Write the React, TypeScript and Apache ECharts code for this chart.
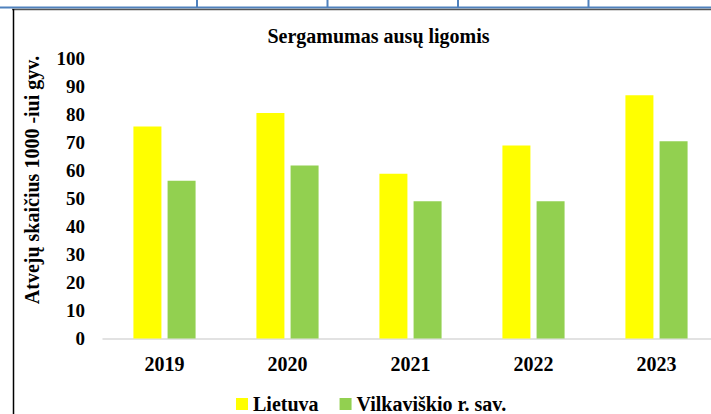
import React, { useEffect, useRef } from "react";
import * as echarts from "echarts";

const categories = ["2019", "2020", "2021", "2022", "2023"];
const lietuva = [75.7, 80.5, 58.8, 68.9, 86.8];
const vilkaviskio = [56.3, 61.7, 49.0, 49.0, 70.4];
const seriesNames = ["Lietuva", "Vilkaviškio r. sav."];
const titleText = "Sergamumas ausų ligomis";
const yAxisTitle = "Atvejų skaičius 1000 -iui gyv.";

const FONT = "'Liberation Serif', 'Times New Roman', serif";

export default function App() {
  const ref = useRef<HTMLDivElement>(null);
  useEffect(() => {
    document.body.style.margin = "0";
    document.body.style.overflow = "hidden";
    document.documentElement.style.overflow = "hidden";
    const chart = echarts.init(ref.current!, null, { renderer: "svg" });
    const blue = "#4F81BD";
    const vx = [197, 327.5, 458, 588.5];
    chart.setOption({
      animation: false,
      backgroundColor: "#ffffff",
      textStyle: { fontFamily: FONT },
      grid: { left: 103, right: 12, top: 58.3, bottom: 75.5 },
      legend: {
        data: seriesNames,
        left: 236,
        top: 394,
        padding: 0,
        itemWidth: 12,
        itemHeight: 12,
        itemGap: 21,
        icon: "rect",
        textStyle: { fontFamily: "Liberation Serif", fontWeight: "bold", fontSize: 20, color: "#000" },
      },
      xAxis: {
        type: "category",
        data: categories,
        axisLine: { show: true, lineStyle: { color: "#D9D9D9", width: 1.5 } },
        axisTick: { show: false },
        axisLabel: { margin: 15, fontFamily: FONT, fontWeight: "bold", fontSize: 20, color: "#000" },
      },
      yAxis: {
        type: "value",
        min: 0,
        max: 100,
        interval: 10,
        axisLine: { show: false },
        axisTick: { show: false },
        splitLine: { show: false },
        axisLabel: { margin: 18, fontFamily: FONT, fontWeight: "bold", fontSize: 19, color: "#000" },
      },
      series: [
        {
          name: seriesNames[0],
          type: "bar",
          data: lietuva,
          barWidth: 28,
          barGap: "22%",
          itemStyle: { color: "#FFFF00" },
        },
        {
          name: seriesNames[1],
          type: "bar",
          data: vilkaviskio,
          barWidth: 28,
          itemStyle: { color: "#92D050" },
        },
      ],
      graphic: [
        {
          type: "line",
          shape: { x1: 0, y1: 7.5, x2: 730, y2: 7.5 },
          style: { stroke: blue, lineWidth: 2 },
          silent: true,
        },
        ...vx.map((x) => ({
          type: "line",
          shape: { x1: x, y1: 0, x2: x, y2: 7 },
          style: { stroke: blue, lineWidth: 2 },
          silent: true,
        })),
        {
          type: "line",
          shape: { x1: 12, y1: 9.5, x2: 730, y2: 9.5 },
          style: { stroke: "#555", lineWidth: 1.5 },
          silent: true,
        },
        {
          type: "line",
          shape: { x1: 13.5, y1: 9, x2: 13.5, y2: 414 },
          style: { stroke: "#000", lineWidth: 1.5 },
          silent: true,
        },
        {
          type: "text",
          x: 378.5,
          y: 36,
          style: {
            text: titleText,
            font: `bold 20px ${FONT}`,
            fill: "#000",
            textAlign: "center",
            textVerticalAlign: "middle",
          },
        },
        {
          type: "text",
          x: 32,
          y: 180,
          rotation: Math.PI / 2,
          style: {
            text: yAxisTitle,
            font: `bold 20px ${FONT}`,
            fill: "#000",
            textAlign: "center",
            textVerticalAlign: "middle",
          },
        },
      ],
    });
    return () => chart.dispose();
  }, []);
  return (
    <div style={{ position: "absolute", left: 0, top: 0, width: 711, height: 414, overflow: "hidden" }}>
      <div ref={ref} style={{ width: 730, height: 414 }} />
    </div>
  );
}
